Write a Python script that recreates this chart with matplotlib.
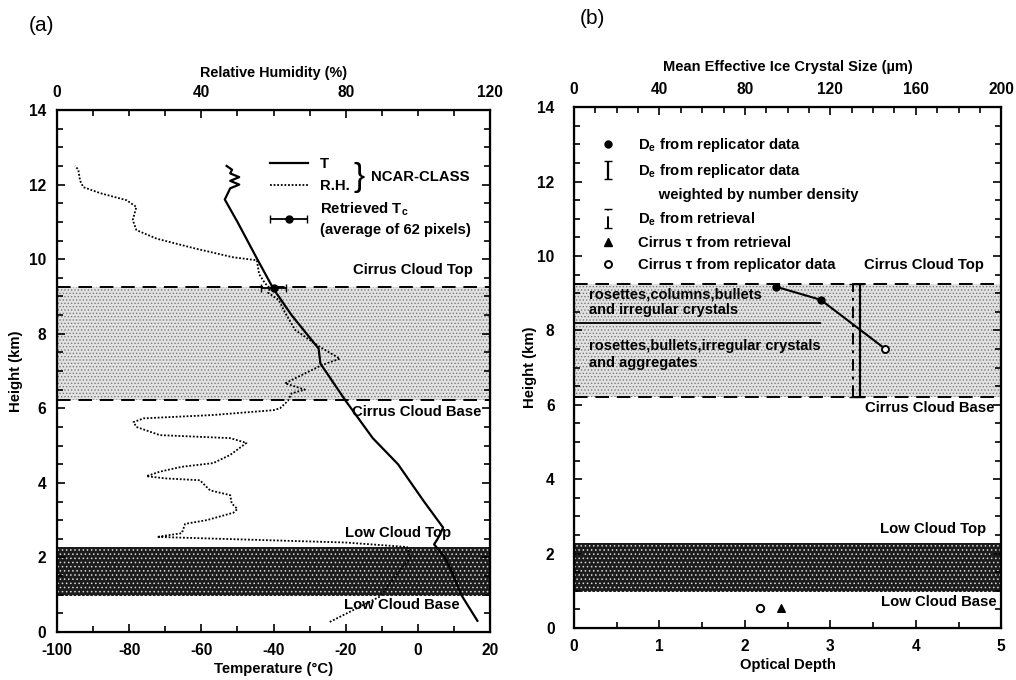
import matplotlib
matplotlib.use('Agg')
import matplotlib.pyplot as plt
from matplotlib.lines import Line2D
from matplotlib.ticker import MultipleLocator
from matplotlib.legend_handler import HandlerErrorbar

plt.rcParams['font.family'] = ['Liberation Sans', 'DejaVu Sans']
plt.rcParams['mathtext.default'] = 'regular'
plt.rcParams['axes.unicode_minus'] = False
plt.rcParams['hatch.linewidth'] = 0.6

# --- data (a): NCAR-CLASS sounding ---
t_height = [0.3, 1.0, 1.6, 2.0, 2.35, 2.5, 2.8, 3.5, 4.5, 5.2, 6.2, 7.2, 7.6, 8.5,
            9.2, 10.0, 11.0, 11.6, 11.8, 11.9, 12.0, 12.1, 12.2, 12.3, 12.4, 12.5]
t_temp = [16.5, 12.0, 9.5, 7.5, 4.5, 5.5, 7.0, 1.7, -5.5, -12.5, -20.0, -27.0, -27.5, -35.0,
          -40.0, -44.5, -50.0, -53.5, -52.5, -52.0, -49.5, -52.0, -49.5, -52.0, -51.5, -53.0]

rh_height = [0.27, 0.95, 1.66, 2.0, 2.28, 2.4, 2.55, 2.65, 2.9, 3.0, 3.2, 3.3, 3.45, 3.67,
             3.8, 4.07, 4.12, 4.18, 4.3, 4.43, 4.53, 4.75, 5.07, 5.2, 5.28, 5.5, 5.63, 5.73,
             5.82, 5.95, 6.0, 6.2, 6.4, 6.5, 6.67, 7.16, 7.33, 7.65, 8.1, 8.6, 8.9, 9.1,
             9.22, 9.36, 9.6, 9.97, 10.05, 10.3, 10.55, 10.78, 11.05, 11.4, 11.58, 11.77,
             11.93, 12.1, 12.4, 12.5]
rh_value = [75.6, 89.5, 95.0, 98.0, 97.0, 80.0, 27.7, 34.6, 35.5, 41.5, 48.9, 50.0, 48.4, 48.0,
            42.4, 39.6, 30.0, 24.8, 28.5, 34.5, 43.3, 48.0, 52.5, 48.0, 28.5, 22.0, 21.2, 24.0,
            43.3, 60.0, 61.8, 64.0, 65.0, 68.7, 63.2, 73.4, 78.4, 72.8, 66.0, 63.0, 61.5, 58.5,
            59.0, 57.6, 56.0, 55.4, 48.8, 37.7, 27.6, 22.0, 21.0, 22.0, 19.3, 12.0,
            7.3, 6.4, 5.9, 5.0]

tc_height = 9.22
tc_temp = -40.0
tc_err = 3.5

# --- data (b): crystal size and optical depth ---
de_size = [94.7, 115.5, 145.7]
de_height = [9.17, 8.82, 7.5]
de_weighted = 134.0
de_retrieved = 130.4

cirrus_top, cirrus_base = 9.25, 6.22
low_top, low_base = 2.28, 0.97

tau_retrieval = 2.42
tau_replicator = 2.18
tau_height = 0.55

fig = plt.figure(figsize=(10.16, 6.8), dpi=100)
ax = fig.add_axes([0.0561, 0.0706, 0.4262, 0.7676])
bx = fig.add_axes([0.565, 0.0765, 0.4205, 0.766])

tick_fs = 11.2
text_fs = 10.7


def cloud_layers(axis):
    axis.axhspan(cirrus_base, cirrus_top, facecolor='#e2e2e2', edgecolor='#7a7a7a',
                 hatch='.....', linewidth=0, zorder=0)
    axis.axhspan(low_base, low_top, facecolor='#1c1c1c', edgecolor='#d8d8d8',
                 hatch='....', linewidth=0, zorder=0)
    for h in (cirrus_top, cirrus_base):
        axis.axhline(h, color='black', linestyle=(0, (7, 4)), linewidth=1.4, zorder=1)


def style_axis(axis, xmajor, xminor, ypad):
    axis.set_ylim(0, 14)
    axis.yaxis.set_major_locator(MultipleLocator(2))
    axis.yaxis.set_minor_locator(MultipleLocator(0.5))
    axis.xaxis.set_major_locator(MultipleLocator(xmajor))
    axis.xaxis.set_minor_locator(MultipleLocator(xminor))
    axis.tick_params(which='both', direction='in', right=True, top=False,
                     labelsize=tick_fs, width=1.2)
    axis.tick_params(which='major', length=6)
    axis.tick_params(which='minor', length=4)
    axis.tick_params(axis='x', pad=8)
    axis.tick_params(axis='y', pad=ypad)
    for s in axis.spines.values():
        s.set_linewidth(1.6)
    for lab in axis.get_xticklabels() + axis.get_yticklabels():
        lab.set_fontweight('bold')


def style_top(axis, xmax):
    axis.set_xlim(0, xmax)
    axis.xaxis.set_major_locator(MultipleLocator(40))
    axis.xaxis.set_minor_locator(MultipleLocator(10))
    axis.tick_params(which='both', direction='in', labelsize=tick_fs, width=1.2, pad=7)
    axis.tick_params(which='major', length=6)
    axis.tick_params(which='minor', length=4)
    for lab in axis.get_xticklabels():
        lab.set_fontweight('bold')


# ---------------- panel (a) ----------------
cloud_layers(ax)
ax.set_xlim(-100, 20)
style_axis(ax, 20, 10, 8)
t_line, = ax.plot(t_temp, t_height, color='black', linewidth=1.6, label='T', zorder=3)
tc = ax.errorbar([tc_temp], [tc_height], xerr=[tc_err], fmt='o', color='black',
                 markersize=5, capsize=3, linewidth=1.3, zorder=4,
                 label='Retrieved T$_c$\n(average of 62 pixels)')
ax.set_xlabel('Temperature (°C)', fontsize=text_fs, fontweight='bold', labelpad=3)
ax.set_ylabel('Height (km)', fontsize=text_fs, fontweight='bold', labelpad=4)

ax2 = ax.twiny()
style_top(ax2, 120)
rh_line, = ax2.plot(rh_value, rh_height, color='black', linestyle=(0, (1, 1)),
                    linewidth=1.3, label='R.H.', zorder=3)
ax2.set_xlabel('Relative Humidity (%)', fontsize=text_fs - 0.3, fontweight='bold', labelpad=6)

leg = ax2.legend(handles=[t_line, rh_line, tc], loc='upper left',
                 bbox_to_anchor=(0.46, 0.935), frameon=False, fontsize=text_fs,
                 handlelength=2.6, labelspacing=0.5, handletextpad=0.8,
                 handler_map={tc: HandlerErrorbar(xerr_size=1.25)})
for txt in leg.get_texts():
    txt.set_fontweight('bold')
    txt.set_linespacing(1.45)
ax2.text(0.685, 0.871, '}', transform=ax2.transAxes, fontsize=24, va='center',
         ha='left', fontweight='light')
ax2.text(0.725, 0.871, 'NCAR-CLASS', transform=ax2.transAxes, fontsize=text_fs,
         va='center', ha='left', fontweight='bold')

for label, h, xr in [('Cirrus Cloud Top', 9.7, 0.96), ('Cirrus Cloud Base', 5.9, 0.98),
                     ('Low Cloud Top', 2.65, 0.91), ('Low Cloud Base', 0.72, 0.93)]:
    ax.text(xr, h, label, transform=ax.get_yaxis_transform(), ha='right', va='center',
            fontsize=text_fs, fontweight='bold', zorder=5)

# ---------------- panel (b) ----------------
cloud_layers(bx)
bx.set_xlim(0, 5)
style_axis(bx, 1, 0.5, 14)
bx.set_xlabel('Optical Depth', fontsize=text_fs, fontweight='bold', labelpad=3)
bx.set_ylabel('Height (km)', fontsize=text_fs, fontweight='bold', labelpad=0)
bx.scatter([tau_replicator], [tau_height], marker='o', facecolor='white',
           edgecolor='black', s=28, linewidth=1.4, zorder=4)
bx.scatter([tau_retrieval], [tau_height], marker='^', color='black', s=30, zorder=4)

bx2 = bx.twiny()
style_top(bx2, 200)
bx2.set_xlabel('Mean Effective Ice Crystal Size (µm)', fontsize=text_fs - 0.2,
               fontweight='bold', labelpad=8)

bx2.plot(de_size, de_height, color='black', linewidth=1.5, zorder=3)
bx2.plot(de_size[:2], de_height[:2], 'o', color='black', markersize=5, zorder=4)
bx2.plot(de_size[2:], de_height[2:], 'o', markerfacecolor='white',
         markeredgecolor='black', markersize=5, markeredgewidth=1.4, zorder=4)
mid = (cirrus_top + cirrus_base) / 2
half = (cirrus_top - cirrus_base) / 2
ew = bx2.errorbar([de_weighted], [mid], yerr=[half], fmt='none', ecolor='black',
                  capsize=3, elinewidth=1.6, zorder=3)
er = bx2.errorbar([de_retrieved], [mid], yerr=[half], fmt='none', ecolor='black',
                  capsize=3, elinewidth=1.4, zorder=3)
er[2][0].set_linestyle((0, (6, 3, 1.5, 3)))

bx2.plot([0, 115], [8.2, 8.2], color='black', linewidth=1.3, zorder=3)
bx2.text(7, 8.75, 'rosettes,columns,bullets\nand irregular crystals', fontsize=text_fs - 0.2,
         fontweight='bold', va='center', ha='left', linespacing=1.15, zorder=5)
bx2.text(7, 7.35, 'rosettes,bullets,irregular crystals\nand aggregates', fontsize=text_fs - 0.2,
         fontweight='bold', va='center', ha='left', linespacing=1.3, zorder=5)

h_dot = Line2D([], [], marker='o', color='black', linestyle='none', markersize=5)
h_tri = Line2D([], [], marker='^', color='black', linestyle='none', markersize=6)
h_open = Line2D([], [], marker='o', color='black', markerfacecolor='white',
                linestyle='none', markersize=5, markeredgewidth=1.4)
h_blank = Line2D([], [], linestyle='none')
legb = bx2.legend(handles=[h_dot, ew, h_blank, er, h_tri, h_open],
                  labels=['D$_e$ from replicator data',
                          'D$_e$ from replicator data',
                          '     weighted by number density',
                          'D$_e$ from retrieval',
                          'Cirrus τ from retrieval',
                          'Cirrus τ from replicator data'],
                  loc='upper left', bbox_to_anchor=(0.025, 0.97), frameon=False,
                  fontsize=text_fs, handlelength=1.4, labelspacing=0.55, handletextpad=1.3,
                  handler_map={ew: HandlerErrorbar(xerr_size=0.3, yerr_size=0.62),
                               er: HandlerErrorbar(xerr_size=0.3, yerr_size=0.62)})
for txt in legb.get_texts():
    txt.set_fontweight('bold')

for label, h, xr in [('Cirrus Cloud Top', 9.75, 0.96), ('Cirrus Cloud Base', 5.9, 0.985),
                     ('Low Cloud Top', 2.65, 0.965), ('Low Cloud Base', 0.7, 0.99)]:
    bx.text(xr, h, label, transform=bx.get_yaxis_transform(), ha='right', va='center',
            fontsize=text_fs, fontweight='bold', zorder=5)

fig.text(0.028, 0.955, '(a)', fontsize=15)
fig.text(0.571, 0.965, '(b)', fontsize=15)

fig.savefig('out.png', dpi=100)
